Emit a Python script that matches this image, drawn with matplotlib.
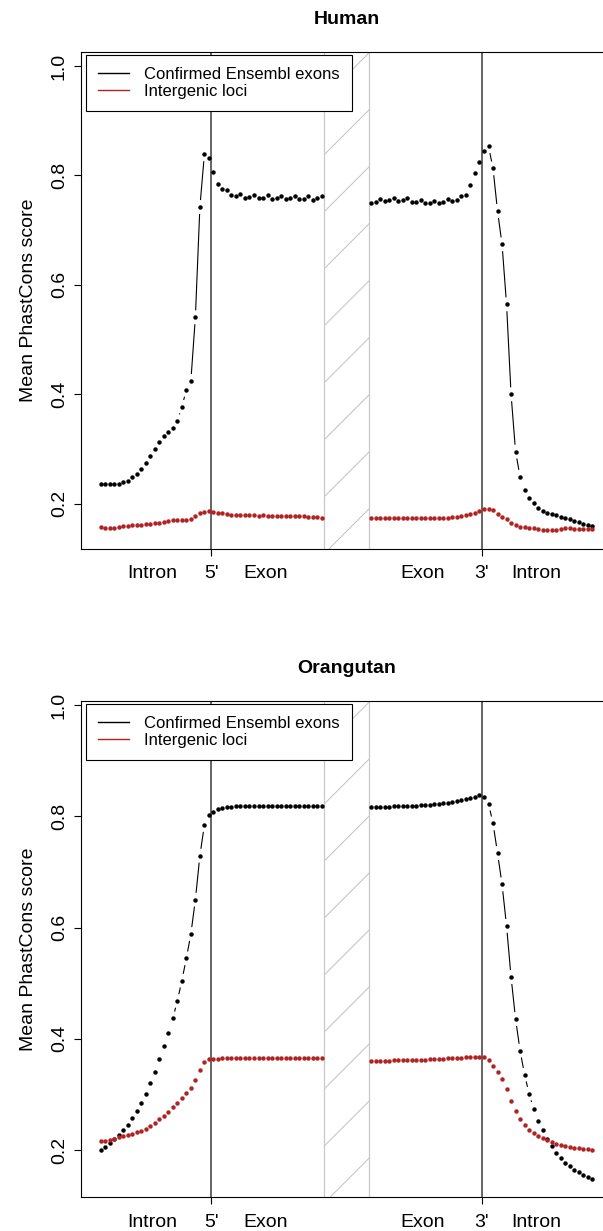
#!/usr/bin/env python3
"""Mean PhastCons score around exon boundaries, human and orangutan."""
import numpy as np
import matplotlib.pyplot as plt
from matplotlib.lines import Line2D
from matplotlib.patches import Rectangle

plt.rcParams['font.family'] = ['Liberation Sans', 'DejaVu Sans']

# positions along the profile: 5' window on the left, 3' window on the right
pos_left = np.arange(1, 51)
pos_right = np.arange(61, 111)
splice_5 = 25.5
splice_3 = 85.5
break_band = (50.5, 60.5)

xtick_major = [splice_5, splice_3]
xtick_major_labels = ["5'", "3'"]
xtick_region = [12.5, 37.5, 72.5, 97.5]
xtick_region_labels = ["Intron", "Exon", "Exon", "Intron"]
yticks = [0.2, 0.4, 0.6, 0.8, 1.0]

series_labels = ["Confirmed Ensembl exons", "Intergenic loci"]
exon_color = "black"
inter_color = "#B22222"

human_ylim = (0.1177, 1.0261)
human_exon_left = [
    0.2354, 0.2354, 0.2354, 0.2360, 0.2365, 0.2402, 0.2420, 0.2482, 0.2543, 0.2629,
    0.2738, 0.2866, 0.3000, 0.3122, 0.3237, 0.3305, 0.3378, 0.3511, 0.3773, 0.4078,
    0.4243, 0.5407, 0.7423, 0.8386, 0.8313, 0.8068, 0.7838, 0.7752, 0.7740, 0.7642,
    0.7630, 0.7655, 0.7593, 0.7610, 0.7642, 0.7582, 0.7593, 0.7642, 0.7575, 0.7582,
    0.7624, 0.7575, 0.7587, 0.7624, 0.7564, 0.7575, 0.7624, 0.7550, 0.7582, 0.7624]
human_exon_right = [
    0.7502, 0.7520, 0.7569, 0.7533, 0.7551, 0.7587, 0.7533, 0.7557, 0.7581, 0.7520,
    0.7514, 0.7551, 0.7496, 0.7496, 0.7527, 0.7502, 0.7520, 0.7563, 0.7527, 0.7551,
    0.7630, 0.7649, 0.7831, 0.8044, 0.8245, 0.8452, 0.8532, 0.8130, 0.7350, 0.6741,
    0.5644, 0.3999, 0.2951, 0.2494, 0.2256, 0.2110, 0.2007, 0.1927, 0.1866, 0.1830,
    0.1811, 0.1787, 0.1762, 0.1738, 0.1714, 0.1689, 0.1659, 0.1634, 0.1610, 0.1586]
human_inter_left = [
    0.1568, 0.1562, 0.1556, 0.1562, 0.1568, 0.1586, 0.1598, 0.1605, 0.1611, 0.1617,
    0.1623, 0.1635, 0.1647, 0.1653, 0.1665, 0.1677, 0.1696, 0.1702, 0.1708, 0.1708,
    0.1714, 0.1775, 0.1824, 0.1854, 0.1860, 0.1848, 0.1836, 0.1824, 0.1812, 0.1799,
    0.1793, 0.1787, 0.1787, 0.1793, 0.1787, 0.1781, 0.1787, 0.1781, 0.1781, 0.1775,
    0.1781, 0.1775, 0.1775, 0.1769, 0.1775, 0.1769, 0.1763, 0.1763, 0.1757, 0.1740]
human_inter_right = [
    0.1744, 0.1744, 0.1744, 0.1738, 0.1744, 0.1744, 0.1744, 0.1738, 0.1744, 0.1744,
    0.1744, 0.1744, 0.1738, 0.1744, 0.1744, 0.1744, 0.1744, 0.1738, 0.1750, 0.1763,
    0.1781, 0.1793, 0.1806, 0.1824, 0.1872, 0.1903, 0.1909, 0.1879, 0.1818, 0.1763,
    0.1726, 0.1641, 0.1604, 0.1580, 0.1568, 0.1562, 0.1550, 0.1531, 0.1519, 0.1519,
    0.1519, 0.1519, 0.1531, 0.1556, 0.1556, 0.1544, 0.1537, 0.1537, 0.1531, 0.1537]

orang_ylim = (0.1155, 1.0072)
orang_exon_left = [
    0.2000, 0.2060, 0.2120, 0.2192, 0.2264, 0.2360, 0.2456, 0.2570, 0.2701, 0.2845,
    0.3013, 0.3205, 0.3408, 0.3636, 0.3870, 0.4110, 0.4367, 0.4679, 0.5044, 0.5446,
    0.5883, 0.6500, 0.7291, 0.7843, 0.8022, 0.8082, 0.8125, 0.8148, 0.8166, 0.8172,
    0.8178, 0.8181, 0.8184, 0.8184, 0.8187, 0.8187, 0.8187, 0.8187, 0.8190, 0.8190,
    0.8190, 0.8190, 0.8190, 0.8190, 0.8190, 0.8190, 0.8190, 0.8190, 0.8190, 0.8190]
orang_exon_right = [
    0.8172, 0.8172, 0.8172, 0.8175, 0.8175, 0.8178, 0.8178, 0.8180, 0.8184, 0.8187,
    0.8190, 0.8195, 0.8200, 0.8205, 0.8212, 0.8220, 0.8230, 0.8240, 0.8255, 0.8270,
    0.8290, 0.8310, 0.8330, 0.8355, 0.8375, 0.8352, 0.8226, 0.7873, 0.7339, 0.6776,
    0.6030, 0.5110, 0.4355, 0.3786, 0.3354, 0.3013, 0.2743, 0.2527, 0.2354, 0.2204,
    0.2066, 0.1952, 0.1856, 0.1772, 0.1707, 0.1647, 0.1600, 0.1551, 0.1510, 0.1474]
orang_inter_left = [
    0.2168, 0.2168, 0.2186, 0.2204, 0.2228, 0.2246, 0.2270, 0.2294, 0.2318, 0.2348,
    0.2384, 0.2432, 0.2492, 0.2552, 0.2618, 0.2690, 0.2768, 0.2840, 0.2930, 0.3025,
    0.3121, 0.3259, 0.3444, 0.3588, 0.3630, 0.3636, 0.3642, 0.3648, 0.3652, 0.3655,
    0.3658, 0.3660, 0.3660, 0.3662, 0.3662, 0.3662, 0.3662, 0.3662, 0.3662, 0.3660,
    0.3660, 0.3660, 0.3660, 0.3660, 0.3660, 0.3660, 0.3660, 0.3660, 0.3660, 0.3660]
orang_inter_right = [
    0.3606, 0.3606, 0.3606, 0.3608, 0.3608, 0.3610, 0.3610, 0.3612, 0.3614, 0.3616,
    0.3618, 0.3620, 0.3624, 0.3628, 0.3632, 0.3636, 0.3640, 0.3645, 0.3650, 0.3655,
    0.3660, 0.3665, 0.3670, 0.3675, 0.3678, 0.3672, 0.3618, 0.3516, 0.3402, 0.3271,
    0.3091, 0.2881, 0.2701, 0.2557, 0.2449, 0.2365, 0.2305, 0.2257, 0.2216, 0.2180,
    0.2144, 0.2114, 0.2084, 0.2066, 0.2048, 0.2036, 0.2030, 0.2018, 0.2012, 0.2000]


def gapped_lines(ax, x, y, color, gap_px=7.5):
    # like R type="b": segments stop short of each point
    pts = ax.transData.transform(np.column_stack([x, y]))
    inv = ax.transData.inverted()
    for p0, p1 in zip(pts[:-1], pts[1:]):
        d = p1 - p0
        dist = np.hypot(d[0], d[1])
        if dist <= 2 * gap_px:
            continue
        u = d / dist
        a = inv.transform(p0 + u * gap_px)
        b = inv.transform(p1 - u * gap_px)
        ax.plot([a[0], b[0]], [a[1], b[1]], color=color, lw=0.8, zorder=2)


def hatch_band(ax, x0, x1, ylim, spacing=57, offset=103.3):
    rect = Rectangle((x0, ylim[0]), x1 - x0, ylim[1] - ylim[0],
                     fill=False, edgecolor="none")
    ax.add_patch(rect)
    left = ax.transData.transform((x0, ylim[0]))[0]
    right = ax.transData.transform((x1, ylim[0]))[0]
    top, bottom = ax.bbox.y1, ax.bbox.y0
    inv = ax.transData.inverted()
    width = right - left
    for k in range(-3, 15):
        yl = top - offset - k * spacing
        if yl + width < bottom or yl > top:
            continue
        a = inv.transform((left, yl))
        b = inv.transform((right, yl + width))
        ln, = ax.plot([a[0], b[0]], [a[1], b[1]], color="#C8C8C8", lw=0.8, zorder=1)
        ln.set_clip_path(rect)
    for xe in (x0, x1):
        ax.axvline(xe, color="#C8C8C8", lw=0.9, zorder=1)


def draw_panel(ax, title, ylim, exon_l, exon_r, inter_l, inter_r):
    ax.set_xlim(1 - 0.04 * 109, 110 + 0.04 * 109)
    ax.set_ylim(*ylim)

    hatch_band(ax, break_band[0], break_band[1], ylim)
    for xs in (splice_5, splice_3):
        ax.axvline(xs, color="#3a3a3a", lw=1.1, zorder=2)

    for xs, ys in ((pos_left, exon_l), (pos_right, exon_r)):
        gapped_lines(ax, xs, ys, exon_color)
        ax.plot(xs, ys, "o", color=exon_color, ms=3.2, mew=0, zorder=3)
    for xs, ys in ((pos_left, inter_l), (pos_right, inter_r)):
        gapped_lines(ax, xs, ys, inter_color)
        ax.plot(xs, ys, "o", color=inter_color, ms=3.2, mew=0, zorder=3)

    for sp in ax.spines.values():
        sp.set_color("black")
        sp.set_linewidth(0.8)

    ax.set_yticks(yticks)
    ax.set_yticklabels([f"{v:.1f}" for v in yticks])
    ax.tick_params(axis="y", direction="out", length=5, width=0.8,
                   labelsize=14, labelrotation=90, pad=4.5)
    ax.set_xticks(xtick_major)
    ax.set_xticklabels(xtick_major_labels)
    ax.set_xticks(xtick_region, minor=True)
    ax.set_xticklabels(xtick_region_labels, minor=True)
    ax.tick_params(axis="x", which="major", direction="out", length=5,
                   width=0.8, labelsize=14, pad=7)
    ax.tick_params(axis="x", which="minor", length=0, labelsize=14, pad=12)
    for lab in ax.get_yticklabels():
        lab.set_verticalalignment("center")

    ax.set_ylabel("Mean PhastCons score", fontsize=14)
    ax.yaxis.set_label_coords(-0.0827, 0.5)
    ax.set_title(title, fontsize=14, fontweight="bold", pad=20)

    handles = [Line2D([], [], color=exon_color, lw=1.0),
               Line2D([], [], color=inter_color, lw=1.0)]
    leg = ax.legend(handles, series_labels, loc="upper left",
                    bbox_to_anchor=(0.0089, 0.9934), borderaxespad=0,
                    fontsize=12, fancybox=False, framealpha=1,
                    edgecolor="black", borderpad=0.72, handlelength=1.9,
                    handletextpad=0.9, labelspacing=0.12)
    leg.get_frame().set_linewidth(0.8)
    leg.set_zorder(5)


fig = plt.figure(figsize=(6.03, 12.31), dpi=100)
ax_h = fig.add_axes([0.13433, 0.55426, 0.88043, 0.40374])
ax_o = fig.add_axes([0.13433, 0.02762, 0.88043, 0.40292])

draw_panel(ax_h, "Human", human_ylim, human_exon_left, human_exon_right,
           human_inter_left, human_inter_right)
draw_panel(ax_o, "Orangutan", orang_ylim, orang_exon_left, orang_exon_right,
           orang_inter_left, orang_inter_right)

fig.savefig("out.png", dpi=100)
